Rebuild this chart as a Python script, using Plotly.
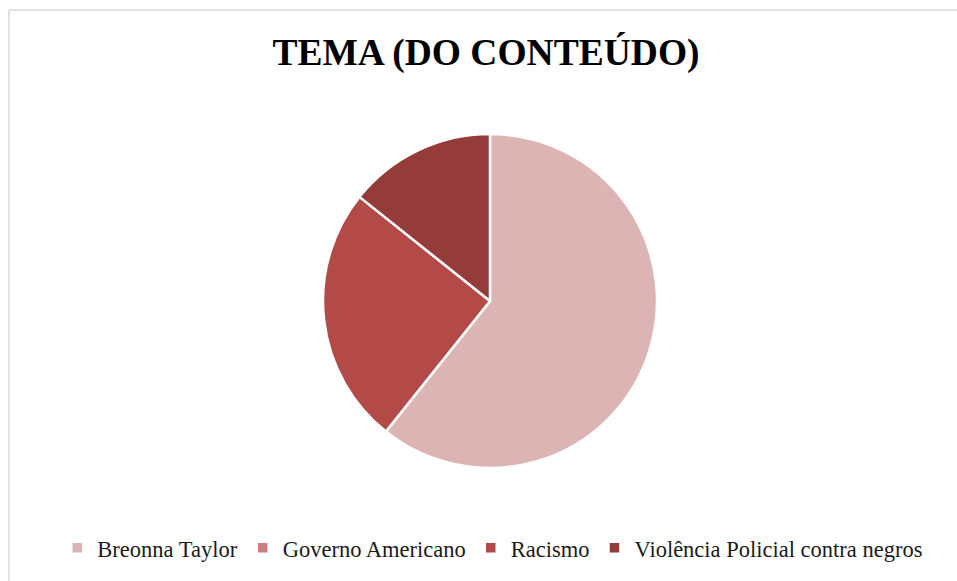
import plotly.graph_objects as go

temas = ["Breonna Taylor", "Governo Americano", "Racismo", "Violência Policial contra negros"]
quantidades = [17, 0, 7, 4]
cores = ["#DDB4B4", "#CD7E7C", "#B34A48", "#953B3A"]

fig = go.Figure(go.Pie(
    labels=temas,
    values=quantidades,
    sort=False,
    direction="clockwise",
    rotation=0,
    textinfo="none",
    hoverinfo="label+value+percent",
    marker=dict(colors=cores, line=dict(color="white", width=2.5)),
))

fig.update_layout(
    width=957,
    height=581,
    paper_bgcolor="white",
    plot_bgcolor="white",
    margin=dict(t=134, b=113, l=23, r=0),
    title=dict(
        text="<b>TEMA (DO CONTEÚDO)</b>",
        x=486 / 957, xanchor="center",
        y=1 - 52 / 581, yanchor="middle",
        font=dict(family="Liberation Serif", size=37.5, color="black"),
    ),
    legend=dict(
        orientation="h",
        x=0.503, xanchor="center",
        y=-0.24, yanchor="middle",
        font=dict(family="Liberation Serif", size=22.5, color="#1a1a1a"),
        itemwidth=30,
    ),
    # thin grey frame of the chart area (top and left edges visible)
    shapes=[
        dict(type="line", xref="paper", yref="paper", x0=-0.015, x1=1.2, y0=1.371, y1=1.371,
             line=dict(color="#d9d9d9", width=1.5)),
        dict(type="line", xref="paper", yref="paper", x0=-0.015, x1=-0.015, y0=-1, y1=1.371,
             line=dict(color="#d9d9d9", width=1.5)),
    ],
)

fig.write_html("out.html", config={"displayModeBar": False},
               post_script="document.body.style.margin='0';")
